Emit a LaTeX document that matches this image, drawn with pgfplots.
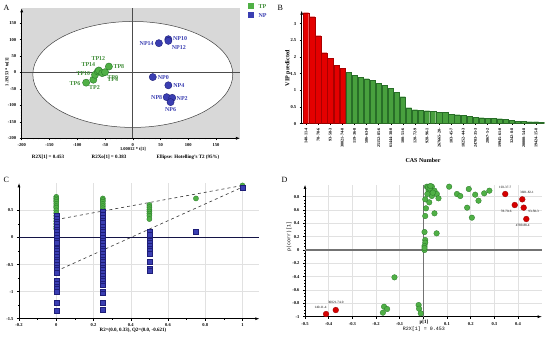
\documentclass[border=0pt]{standalone}
\usepackage{pgfplots}
\pgfplotsset{compat=1.18}
\usepackage{fontspec}
\setmainfont{Liberation Serif}
\setmonofont{Liberation Mono}
\usetikzlibrary{arrows.meta}
\definecolor{gM}{RGB}{80,176,70}
\definecolor{gD}{RGB}{40,120,40}
\definecolor{bM}{RGB}{58,62,178}
\definecolor{bD}{RGB}{30,30,120}
\definecolor{rM}{RGB}{214,0,0}
\definecolor{rD}{RGB}{150,0,0}
\definecolor{barR}{RGB}{228,0,0}
\definecolor{barRd}{RGB}{170,0,0}
\definecolor{barG}{RGB}{72,160,62}
\definecolor{barGd}{RGB}{40,110,40}
\definecolor{abg}{RGB}{216,216,216}
\definecolor{gridc}{RGB}{225,225,225}
\definecolor{navy0}{RGB}{20,20,70}
\pgfplotsset{panel/.style={scale only axis, axis lines=left,
  axis line style={line width=0.6pt, -{Latex[length=4pt,width=3pt]}},
  tick label style={font=\fontsize{4.5}{5}\selectfont\bfseries},
  /pgf/number format/assume math mode=true,
  tick style={black, line width=0.4pt}, tick align=outside,
  major tick length=2pt, minor tick length=1pt}}
\newcommand{\lab}{\fontsize{6}{7}\selectfont\bfseries}
\newcommand{\tinylab}{\fontsize{3.3}{4}\selectfont}
\begin{document}
\begin{tikzpicture}[x=1pt,y=1pt]
\useasboundingbox (0,0) rectangle (550,340);
% ---------------- Panel A ----------------
\begin{axis}[panel, at={(21.7pt,201.7pt)}, anchor=south west,
  width=218.3pt, height=130pt,
  xmin=-200, xmax=193, ymin=-200, ymax=195,
  xtick={-200,-150,...,150}, ytick={-200,-150,...,150},
  minor tick num=4,
  axis background/.style={fill=abg}, clip=false]
\draw[black!75, line width=0.5pt, fill=white] (axis cs:0,-6) ellipse [x radius=180, y radius=161];
\draw[black!70, line width=0.6pt] (axis cs:0,-200) -- (axis cs:0,195);
\draw[black!70, line width=0.6pt] (axis cs:-200,0) -- (axis cs:193,0);
\addplot[only marks, mark=*, mark size=3.6pt, mark options={fill=gM, draw=gD, line width=0.4pt}]
 coordinates {(-84,-31)(-71,-22)(-68,-7)(-63,3)(-61,6)(-55,-2)(-50,1)(-43,18)};
\addplot[only marks, mark=*, mark size=3.6pt, mark options={fill=bM, draw=bD, line width=0.4pt}]
 coordinates {(47,89)(64,101)(64,96)(36,-14)(64,-39)(61,-75)(71,-77)(68,-90)};
\node[text=gM!80!black, font=\lab] at (axis cs:-62,43) {TP12};
\node[text=gM!80!black, font=\lab] at (axis cs:-25,18) {TP8};
\node[text=gM!80!black, font=\lab] at (axis cs:-80,25) {TP14};
\node[text=gM!80!black, font=\lab] at (axis cs:-89,-4) {TP10};
\node[text=gM!80!black, font=\lab] at (axis cs:-36,-14) {TP0};
\node[text=gM!80!black, font=\lab] at (axis cs:-36,-21) {TP4};
\node[text=gM!80!black, font=\lab] at (axis cs:-104,-33) {TP6};
\node[text=gM!80!black, font=\lab] at (axis cs:-69,-47) {TP2};
\node[text=bM, font=\lab] at (axis cs:85,102) {NP10};
\node[text=bM, font=\lab] at (axis cs:83,77) {NP12};
\node[text=bM, font=\lab] at (axis cs:25,89) {NP14};
\node[text=bM, font=\lab] at (axis cs:55,-15) {NP0};
\node[text=bM, font=\lab] at (axis cs:83,-40) {NP4};
\node[text=bM, font=\lab] at (axis cs:43,-75) {NP8};
\node[text=bM, font=\lab] at (axis cs:89,-78) {NP2};
\node[text=bM, font=\lab] at (axis cs:68,-114) {NP6};
\end{axis}
\node[font=\fontsize{8}{9}\selectfont, anchor=west] at (0,332) {A};
\node[rotate=90, font=\fontsize{4.5}{5}\selectfont\bfseries] at (7,268) {1.19253 * to[1]};
\node[font=\fontsize{4.5}{5}\selectfont\bfseries] at (133,190.3) {1.00012 * t[1]};
\node[font=\fontsize{5}{6}\selectfont\bfseries] at (48,183) {R2X[1] = 0.453};
\node[font=\fontsize{5}{6}\selectfont\bfseries] at (109,183) {R2Xo[1] = 0.383};
\node[font=\fontsize{5}{6}\selectfont\bfseries] at (188,183) {Ellipse: Hotelling's T2 (95\%)};
% legend A
\fill[gM] (248,330.5) rectangle (254,336.5);
\node[anchor=west, text=gM!80!black, font=\lab] at (255,333.5) {TP};
\fill[bM] (248,321.5) rectangle (254,327.5);
\node[anchor=west, text=bM, font=\lab] at (255,324.5) {NP};
% ---------------- Panel B ----------------
\begin{axis}[panel, at={(301.7pt,216.3pt)}, anchor=south west,
  width=242.7pt, height=113pt,
  xmin=-0.72, xmax=39.4, ymin=0, ymax=3.39,
  axis x line=bottom, x axis line style={-},
  ytick={0,0.5,...,3}, minor y tick num=4,
  xtick={0,2,...,38},
  xticklabels={140-11-4,78-70-6,93-58-3,30021-74-0,119-36-8,586-63-0,25152-85-6,61444-38-0,100-51-6,120-72-9,928-96-1,267665-20-,103-45-7,18252-44-3,24703-35-3,2867-5-2,19945-61-0,3242-8-8,20000-54-8,19424-15-8},
  xticklabel style={rotate=90, anchor=east, font=\fontsize{4.2}{5}\selectfont\bfseries}]
\addplot[ybar, bar width=5.3pt, bar shift=0pt, fill=barR, draw=barRd, line width=0.3pt]
 coordinates {(0,3.33)(1,3.21)(2,2.64)(3,2.13)(4,1.96)(5,1.76)(6,1.67)};
\addplot[ybar, bar width=5.3pt, bar shift=0pt, fill=barG, draw=barGd, line width=0.3pt]
 coordinates {(7,1.55)(8,1.46)(9,1.40)(10,1.35)(11,1.30)(12,1.21)(13,1.16)(14,1.07)(15,0.95)(16,0.81)
 (17,0.48)(18,0.42)(19,0.41)(20,0.39)(21,0.38)(22,0.35)(23,0.34)(24,0.28)(25,0.27)(26,0.26)
 (27,0.23)(28,0.20)(29,0.18)(30,0.17)(31,0.16)(32,0.15)(33,0.13)(34,0.10)(35,0.08)(36,0.07)
 (37,0.06)(38,0.06)(39,0.05)};
\end{axis}
\node[font=\fontsize{8}{9}\selectfont, anchor=west] at (274,332) {B};
\node[rotate=90, font=\lab] at (288,272) {VIP predicted};
\node[font=\lab] at (423,180) {CAS Number};
% ---------------- Panel C ----------------
\begin{axis}[panel, at={(19pt,21.3pt)}, anchor=south west,
  width=240.3pt, height=135.4pt,
  xmin=-0.2, xmax=1.09, ymin=-1.5, ymax=1.0,
  xtick={-0.2,0,0.2,0.4,0.6,0.8,1}, ytick={-1.5,-1,-0.5,0,0.5},
  xticklabel style={yshift=1.2pt},
  minor tick num=1,
  grid=major, grid style={gridc, line width=0.4pt}]
\draw[black!80, dashed, line width=0.6pt] (axis cs:0,0.33) -- (axis cs:1,0.96);
\draw[black!80, dashed, line width=0.6pt] (axis cs:0,-0.621) -- (axis cs:1,0.93);
\draw[navy0, line width=0.8pt] (axis cs:-0.2,0) -- (axis cs:1.09,0);
\addplot[only marks, mark=*, mark size=2.6pt, mark options={fill=gM, draw=gD, line width=0.3pt}]
 coordinates {(0,0.75)(0,0.72)(0,0.69)(0,0.66)(0,0.62)(0,0.58)(0,0.55)(0,0.5)(0,0.45)(0,0.4)(0,0.35)(0,0.3)(0,0.25)(0,0.2)(0,0.16)
 (0.25,0.72)(0.25,0.69)(0.25,0.66)(0.25,0.62)(0.25,0.58)(0.25,0.54)(0.25,0.5)(0.25,0.45)(0.25,0.4)(0.25,0.35)(0.25,0.3)(0.25,0.25)(0.25,0.2)
 (0.5,0.6)(0.5,0.56)(0.5,0.52)(0.5,0.48)(0.5,0.44)(0.5,0.4)(0.5,0.34)
 (0.75,0.72)(1,0.96)};
\addplot[only marks, mark=square*, mark size=2.4pt, mark options={fill=bM, draw=bD, line width=0.3pt}]
 coordinates {(0,0.4)(0,0.35)(0,0.3)(0,0.25)(0,0.2)(0,0.15)(0,0.1)(0,0.05)(0,0)(0,-0.05)(0,-0.1)
 (0,-0.2)(0,-0.25)(0,-0.3)(0,-0.35)(0,-0.4)(0,-0.45)(0,-0.5)(0,-0.55)(0,-0.6)(0,-0.65)
 (0,-0.8)(0,-0.85)(0,-0.9)(0,-0.95)(0,-1.0)(0,-1.2)(0,-1.35)
 (0.25,0.47)(0.25,0.42)(0.25,0.37)(0.25,0.32)(0.25,0.27)(0.25,0.2)(0.25,0.15)(0.25,0.1)(0.25,0.05)(0.25,0)
 (0.25,-0.05)(0.25,-0.1)(0.25,-0.15)(0.25,-0.2)(0.25,-0.25)(0.25,-0.3)(0.25,-0.35)(0.25,-0.4)(0.25,-0.45)(0.25,-0.5)
 (0.25,-0.55)(0.25,-0.6)(0.25,-0.65)(0.25,-0.7)(0.25,-0.75)(0.25,-0.8)(0.25,-0.85)(0.25,-0.88)
 (0.25,-1.0)(0.25,-1.03)(0.25,-1.2)(0.25,-1.33)
 (0.5,0.1)(0.5,0.05)(0.5,-0.05)(0.5,-0.1)(0.5,-0.15)(0.5,-0.2)(0.5,-0.25)(0.5,-0.3)(0.5,-0.45)(0.5,-0.58)(0.5,-0.61)
 (0.75,0.1)(1,0.92)};
\end{axis}
\node[font=\fontsize{8}{9}\selectfont, anchor=west] at (0,160) {C};
\node[font=\fontsize{5}{6}\selectfont\bfseries] at (133,10) {R2=(0.0, 0.33), Q2=(0.0, -0.621)};
% ---------------- Panel D ----------------
\begin{axis}[panel, at={(305pt,23.3pt)}, anchor=south west,
  width=236.7pt, height=131.7pt,
  xmin=-0.5, xmax=0.5, ymin=-1, ymax=0.975,
  xtick={-0.5,-0.4,-0.3,-0.2,-0.1,0,0.1,0.2,0.3,0.4},
  xticklabels={-0.5,-0.4,-0.3,-0.2,-0.1,,0.1,0.2,0.3,0.4},
  ytick={-1,-0.8,-0.6,-0.4,-0.2,0,0.2,0.4,0.6,0.8},
  minor y tick num=3,
  grid=major, grid style={gridc, line width=0.4pt}, clip=false]
\draw[black!55, line width=1.3pt] (axis cs:0,-1) -- (axis cs:0,0.975);
\draw[black!55, line width=1.3pt] (axis cs:-0.5,0) -- (axis cs:0.5,0);
\addplot[only marks, mark=*, mark size=2.8pt, mark options={fill=gM, draw=gD, line width=0.3pt}]
 coordinates {(0.015,0.95)(0.036,0.95)(0.022,0.90)(0.047,0.89)(0.057,0.84)(0.036,0.81)(0.064,0.775)
 (0.025,0.715)(0.008,0.76)(0.011,0.625)(0.008,0.51)(0.047,0.55)(0.056,0.25)(0.005,0.27)
 (0.008,0.15)(0.008,0.11)(0.005,0.06)(0.005,0.0)(0.005,0.03)
 (0.02,0.94)(0.027,0.925)(0.04,0.86)(0.017,0.84)(0.03,0.96)
 (0.109,0.95)(0.142,0.84)(0.156,0.81)(0.192,0.915)(0.185,0.635)(0.205,0.485)(0.219,0.83)
 (0.233,0.74)(0.257,0.85)(0.279,0.89)
 (-0.122,-0.41)(-0.166,-0.85)(-0.171,-0.94)(-0.153,-0.885)(-0.020,-0.825)(-0.018,-0.88)(-0.011,-0.95)};
\addplot[only marks, mark=*, mark size=2.9pt, mark options={fill=rM, draw=rD, line width=0.3pt}]
 coordinates {(0.346,0.84)(0.418,0.76)(0.386,0.675)(0.424,0.635)(0.435,0.465)(-0.411,-0.96)(-0.37,-0.90)};
\node[font=\tinylab] at (axis cs:0.346,0.94) {103-37-7};
\node[font=\tinylab] at (axis cs:0.438,0.86) {3681-82-1};
\node[font=\tinylab] at (axis cs:0.35,0.575) {78-70-6};
\node[font=\tinylab] at (axis cs:0.466,0.575) {93-58-3};
\node[font=\tinylab] at (axis cs:0.42,0.375) {4789-88-4};
\node[font=\tinylab] at (axis cs:-0.434,-0.86) {140-11-4};
\node[font=\tinylab] at (axis cs:-0.37,-0.785) {30021-74-0};
\end{axis}
\node[font=\fontsize{8}{9}\selectfont, anchor=west] at (278,160) {D};
\node[rotate=90, font=\fontsize{5}{6}\selectfont\ttfamily] at (289,103.3) {p(corr)[1]};
\node[font=\fontsize{5}{6}\selectfont\bfseries] at (424,17.5) {p[1]};
\node[font=\fontsize{5}{6}\selectfont\ttfamily] at (424,11) {R2X[1] = 0.453};
\end{tikzpicture}
\end{document}
